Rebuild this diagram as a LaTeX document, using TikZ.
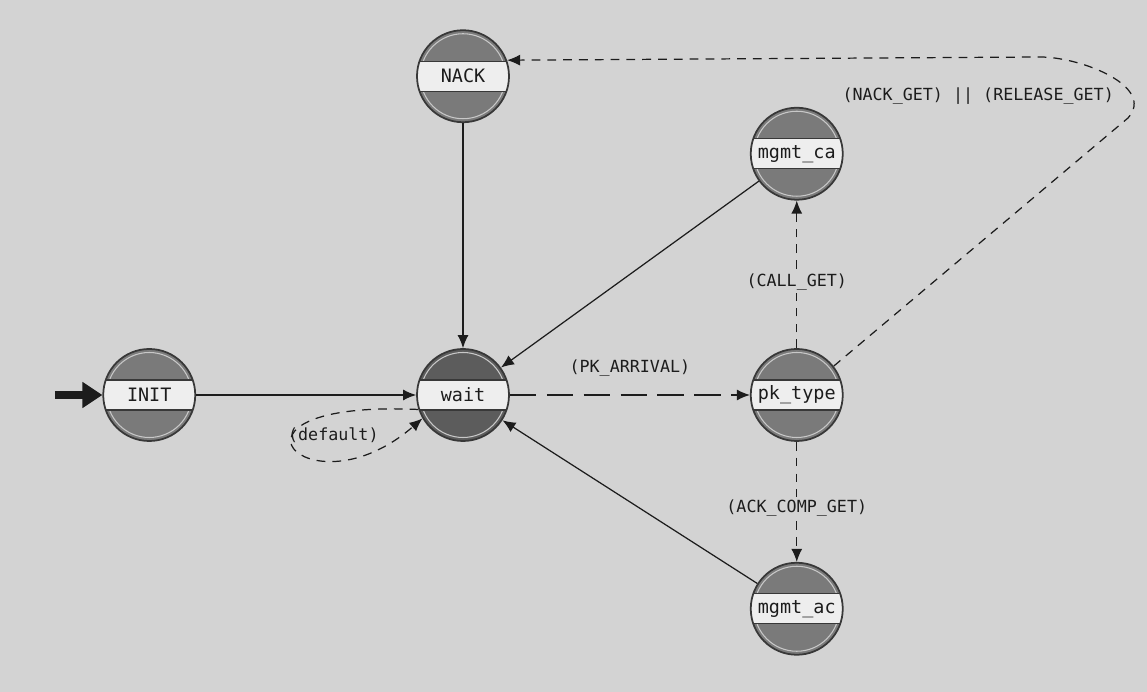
\documentclass[tikz,border=0pt]{standalone}
\usepackage{fontspec}
\setmonofont{DejaVu Sans Mono}
\usetikzlibrary{positioning,arrows.meta}
\definecolor{fsmBg}{HTML}{D3D3D3}
\definecolor{fsmState}{HTML}{7A7A7A}
\definecolor{fsmStateD}{HTML}{5C5C5C}
\definecolor{fsmRing}{HTML}{383838}
\definecolor{fsmRingL}{HTML}{C8C8C8}
\definecolor{fsmBand}{HTML}{EEEEEE}
\definecolor{fsmInk}{HTML}{1C1C1C}
\tikzset{
  fsm-state/.style={
    circle, draw=fsmRing, line width=1pt, fill=fsmState,
    minimum size=18.4mm, inner sep=0pt, text=fsmInk,
    font=\fontsize{10.5}{12}\selectfont\ttfamily,
    path picture={
      \draw[fsmRingL, line width=0.6pt]
        (path picture bounding box.center) circle (8.5mm);
      \draw[fill=fsmBand, draw=fsmRing, line width=0.8pt]
        ([yshift=-3mm]path picture bounding box.west) rectangle
        ([yshift=3mm]path picture bounding box.east);
    }
  },
  fsm-flow/.style={-{Latex[length=2.6mm,width=2.2mm]}, line width=0.7pt,
    draw=fsmInk},
  fsm-flow-d/.style={fsm-flow, dash pattern=on 5pt off 4pt},
  fsm-flow-ld/.style={fsm-flow, dash pattern=on 15pt off 6pt},
  fsm-label/.style={font=\fontsize{9.5}{11}\selectfont\ttfamily,
    text=fsmInk, fill=fsmBg, inner sep=1.5pt},
  fsm-entry/.style={-{Triangle[length=4mm,width=5mm]}, line width=4.5pt,
    draw=fsmInk}
}
\begin{document}
\begin{tikzpicture}[node distance=44mm]
\useasboundingbox (0,0) rectangle (22.94,-13.84);
\fill[fsmBg] (0,0) rectangle (22.94,-13.84);
\node[fsm-state, fill=fsmStateD] (wait) at (9.26,-7.90) {wait};
\node[fsm-state, left=44mm of wait] (init) {INIT};
\node[fsm-state, above=45mm of wait] (nack) {NACK};
\node[fsm-state, right=48mm of wait] (pktype) {pk\_type};
\node[fsm-state, above=29.5mm of pktype] (mgmtca) {mgmt\_ca};
\node[fsm-state, below=24mm of pktype] (mgmtac) {mgmt\_ac};
\coordinate[left=9.5mm of init] (entry);
\coordinate (bendR) at (22.56,-2.36);
\coordinate (bendT) at (20.8,-1.14);

\draw[fsm-entry] (entry) -- (init);
\draw[fsm-flow] (init) -- (wait);
\draw[fsm-flow] (nack) -- (wait);
\draw[fsm-flow] (mgmtca) -- (wait);
\draw[fsm-flow] (mgmtac) -- (wait);
\draw[fsm-flow-ld] (wait) -- node[fsm-label, above=3mm] (lpk) {(PK\_ARRIVAL)} (pktype);
\draw[fsm-flow-d] (pktype) -- node[fsm-label, pos=0.45] (lcall) {(CALL\_GET)} (mgmtca);
\draw[fsm-flow-d] (pktype) -- node[fsm-label, pos=0.55] (lack) {(ACK\_COMP\_GET)} (mgmtac);
\draw[fsm-flow-d] (wait.198) .. controls +(-4.4,0.2) and +(-2.3,-2.0)
  .. node[fsm-label, fill=none, pos=0.88, anchor=south east] (ldef) {(default)} (wait.210);
\draw[fsm-flow-d] (pktype.38) -- (bendR) to[out=48,in=0] (bendT)
  -- node[fsm-label, pos=0.116, below=5.5mm] (lnack) {(NACK\_GET) || (RELEASE\_GET)} (nack.20);
\end{tikzpicture}
\end{document}
